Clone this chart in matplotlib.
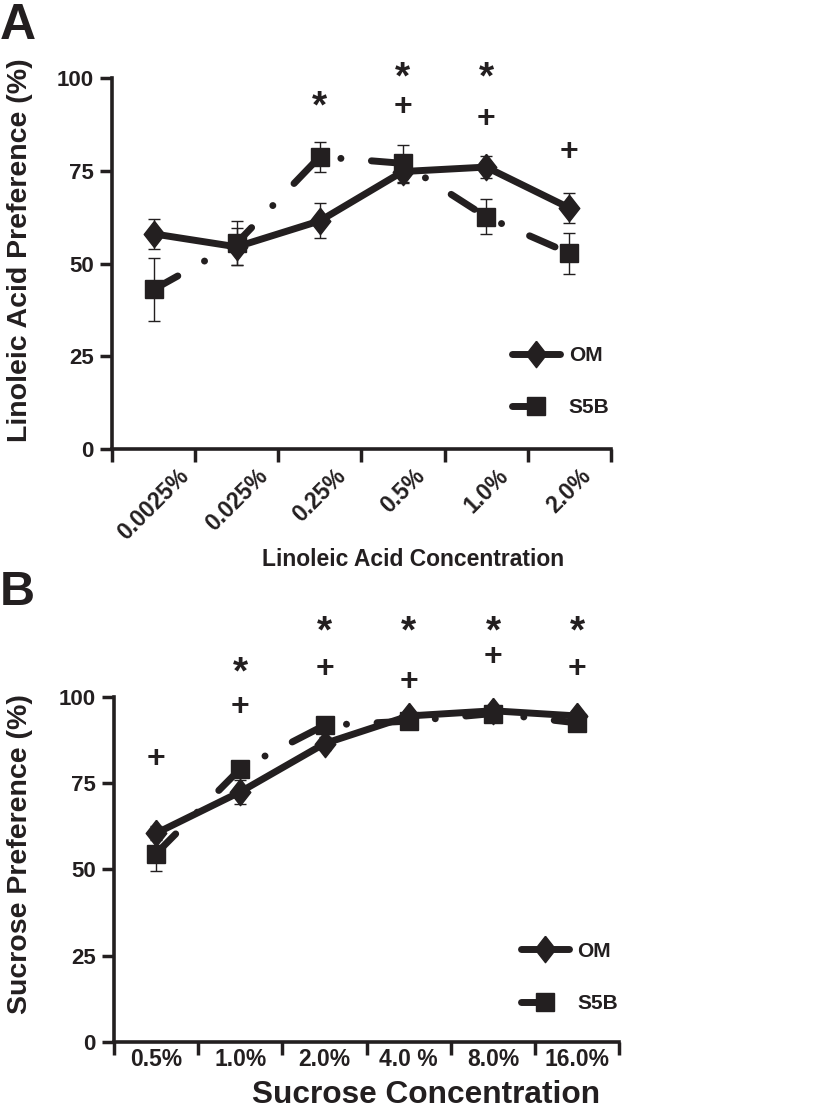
import matplotlib
matplotlib.use("Agg")
import matplotlib.pyplot as plt
from matplotlib.lines import Line2D
import numpy as np

plt.rcParams['font.family'] = ['Liberation Sans', 'DejaVu Sans']
plt.rcParams['font.weight'] = 'bold'

# panel A: linoleic acid
la_conc = ["0.0025%", "0.025%", "0.25%", "0.5%", "1.0%", "2.0%"]
la_om = [58, 54.5, 61.5, 74.8, 76, 65]
la_om_err = [4, 5, 4.7, 3, 3, 4]
la_s5b = [43, 55.5, 78.8, 77, 62.6, 52.8]
la_s5b_err = [8.6, 6, 4, 5, 4.7, 5.5]
la_star = [None, None, 94, 102, 102, None]
la_plus = [None, None, None, 92.3, 89, 80]

# panel B: sucrose
su_conc = ["0.5%", "1.0%", "2.0%", "4.0 %", "8.0%", "16.0%"]
su_om = [60.5, 72.5, 86.5, 94.5, 96, 94.5]
su_om_err = [2, 3.5, 2, 1.5, 1.5, 1.5]
su_s5b = [54.6, 79.2, 91.8, 93, 95.2, 92.5]
su_s5b_err = [5, 2, 1.5, 1.5, 1.5, 1.5]
su_star = [None, 109, 121, 121, 121, 121]
su_plus = [82, 97, 108, 104.3, 111.5, 108]

ink = '#231f20'
diamond = [(0, 1), (0.78, 0), (0, -1), (-0.78, 0), (0, 1)]
LW = 5
dashdot = (0, (4, 4.4, 0.01, 4.4))


def panel(ax, cats, om, om_err, s5b, s5b_err, star, plus, legpos):
    x = np.arange(len(cats))
    ax.errorbar(x, om, yerr=om_err, fmt='none', ecolor=ink, elinewidth=1,
                capsize=4, capthick=1, zorder=2)
    ax.errorbar(x, s5b, yerr=s5b_err, fmt='none', ecolor=ink, elinewidth=1,
                capsize=4, capthick=1, zorder=2)
    ax.plot(x, om, color=ink, lw=LW, marker=diamond, ms=19,
            solid_capstyle='round', solid_joinstyle='round', zorder=3)
    ax.plot(x, s5b, color=ink, lw=LW, ls=dashdot,
            dash_capstyle='round', marker='s', ms=13, zorder=4)
    for xi, yi in zip(x, star):
        if yi is not None:
            ax.annotate('*', (xi, yi), xytext=(0, -5.5), textcoords='offset points',
                        ha='center', va='center', fontsize=28, color=ink,
                        annotation_clip=False)
    for xi, yi in zip(x, plus):
        if yi is not None:
            ax.annotate('+', (xi, yi), xytext=(0, 0), textcoords='offset points',
                        ha='center', va='center', fontsize=23, color=ink,
                        annotation_clip=False)

    ax.set_xlim(-0.5, len(cats) - 0.5)
    ax.set_ylim(0, 100)
    ax.set_yticks([0, 25, 50, 75, 100])
    ax.set_xticks(x)
    ax.set_xticks(np.arange(len(cats) + 1) - 0.5, minor=True)
    ax.tick_params(axis='x', which='major', length=0, pad=11)
    ax.tick_params(axis='x', which='minor', length=9, width=2.5, color=ink)
    ax.tick_params(axis='y', length=9, width=2.5, color=ink, labelsize=16,
                   pad=4, labelcolor=ink)
    for s in ['top', 'right']:
        ax.spines[s].set_visible(False)
    for s in ['left', 'bottom']:
        ax.spines[s].set_linewidth(2.6)
        ax.spines[s].set_color(ink)

    h_om = Line2D([], [], color=ink, lw=LW, marker=diamond, ms=19,
                  solid_capstyle='round')
    h_s5b = Line2D([], [], color=ink, lw=LW, ls=(0, (2.3, 30)),
                   dash_capstyle='round', marker='s', ms=13)
    leg = ax.legend([h_om, h_s5b], ['OM', 'S5B'], loc='lower right',
                    bbox_to_anchor=legpos, frameon=False, fontsize=15,
                    handlelength=2.3, labelspacing=1.6, handletextpad=0.4,
                    numpoints=1)
    for t in leg.get_texts():
        t.set_color(ink)


fig = plt.figure(figsize=(8.15, 11.15), dpi=100)

axA = fig.add_axes([0.1374, 0.5973, 0.612, 0.3327])
panel(axA, la_conc, la_om, la_om_err, la_s5b, la_s5b_err, la_star, la_plus,
      (1.035, 0.035))
axA.set_xticklabels(la_conc, rotation=45, ha='center', va='top', fontsize=16.5,
                    color=ink)

axB = fig.add_axes([0.1399, 0.0655, 0.62, 0.3094])
panel(axB, su_conc, su_om, su_om_err, su_s5b, su_s5b_err, su_star, su_plus,
      (1.035, 0.03))
axB.set_xticklabels(su_conc, fontsize=16.5, color=ink)
axB.tick_params(axis='x', which='major', pad=4)

fig.text(0.024, 0.776, 'Linoleic Acid Preference (%)', rotation=90,
         ha='center', va='center', fontsize=20.5, color=ink)
fig.text(0.507, 0.498, 'Linoleic Acid Concentration', ha='center',
         va='center', fontsize=16.5, color=ink)
fig.text(0.024, 0.234, 'Sucrose Preference (%)', rotation=90,
         ha='center', va='center', fontsize=20.5, color=ink)
fig.text(0.523, 0.018, 'Sucrose Concentration', ha='center',
         va='center', fontsize=22.8, color=ink)
fig.text(0.0, 0.997, 'A', ha='left', va='top', fontsize=36, color=ink)
fig.text(0.0, 0.489, 'B', ha='left', va='top', fontsize=35, color=ink)

fig.savefig('out.png', dpi=100)
